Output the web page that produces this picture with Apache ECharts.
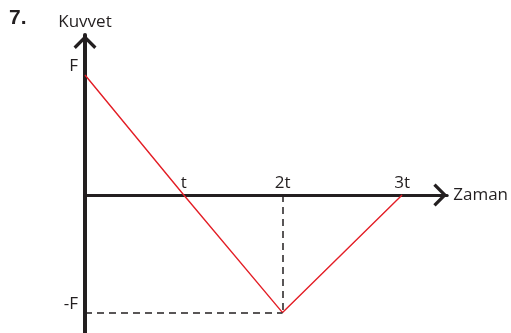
<!DOCTYPE html>
<html>
<head>
<meta charset="utf-8">
<script src="https://cdn.jsdelivr.net/npm/echarts@6/dist/echarts.min.js"></script>
<style>
    html, body { margin: 0; padding: 0; background: #fff; }
    #chart { width: 511px; height: 333px; }
</style>
</head>
<body>
<div id="chart"></div>
<script>
// zaman (t birimi) ve kuvvet (F birimi) noktaları
const timeValues = [0, 1, 2, 3.21]
const forceValues = [1, 0, -0.98, 0]
const timeTicks = [1, 2, 3.21]
const timeLabels = ['t', '2t', '3t']
const forceTicks = [1, -0.98]
const forceLabels = ['F', '-F']

const ink = '#231f20'
const font = '"Open Sans", "Noto Sans", sans-serif'
// açık ok ucu (yukarı bakan)
const chevron = 'path://M0,10 L10,0 L20,10 L18,12 L10,4 L2,12 Z'

const chart = echarts.init(document.getElementById('chart'))
chart.setOption({
    animation: false,
    title: {
        text: '7.',
        left: 4,
        top: 3,
        textStyle: { fontFamily: '"Liberation Sans", Arial, sans-serif', fontSize: 21, fontWeight: 'bold', color: ink }
    },
    grid: { left: 85, right: 63, top: 35, bottom: 0 },
    xAxis: {
        type: 'value',
        min: 0,
        max: 3.667,
        name: 'Zaman',
        nameLocation: 'end',
        nameGap: 6,
        nameTextStyle: { fontFamily: font, fontSize: 17, color: ink },
        axisLine: {
            onZero: true,
            symbol: ['none', chevron],
            symbolSize: [23, 14],
            symbolOffset: [0, -7],
            lineStyle: { color: ink, width: 3 }
        },
        axisTick: { show: false },
        splitLine: { show: false },
        axisLabel: { show: false }
    },
    yAxis: {
        type: 'value',
        min: -1.15,
        max: 1.333,
        name: 'Kuvvet',
        nameLocation: 'end',
        nameGap: 4,
        nameTextStyle: { fontFamily: font, fontSize: 17, color: ink },
        axisLine: {
            symbol: ['none', chevron],
            symbolSize: [23, 14],
            symbolOffset: [0, -7],
            lineStyle: { color: ink, width: 4 }
        },
        axisTick: { show: false },
        splitLine: { show: false },
        axisLabel: {
            margin: 7,
            customValues: forceTicks,
            fontFamily: font,
            fontSize: 17,
            color: ink,
            verticalAlign: 'bottom',
            formatter: v => forceLabels[forceTicks.indexOf(v)] || ''
        }
    },
    series: [
        {
            type: 'line',
            data: timeValues.map((t, i) => [t, forceValues[i]]),
            symbol: 'none',
            lineStyle: { color: '#e31e26', width: 1.4 },
            markLine: {
                silent: true,
                symbol: 'none',
                label: { show: false },
                lineStyle: { color: ink, width: 1.5, type: [7, 5] },
                data: [
                    [{ coord: [0, forceValues[2]] }, { coord: [timeValues[2], forceValues[2]] }],
                    [{ coord: [timeValues[2], 0] }, { coord: [timeValues[2], forceValues[2]] }]
                ]
            }
        },
        {
            // zaman eksenindeki etiketler
            type: 'scatter',
            data: timeTicks.map(t => [t, 0]),
            symbolSize: 0,
            silent: true,
            itemStyle: { opacity: 1 },
            label: {
                show: true,
                position: 'top',
                distance: 3,
                fontFamily: font,
                fontSize: 17,
                color: ink,
                opacity: 1,
                formatter: p => timeLabels[p.dataIndex]
            }
        }
    ]
})
</script>
</body>
</html>
